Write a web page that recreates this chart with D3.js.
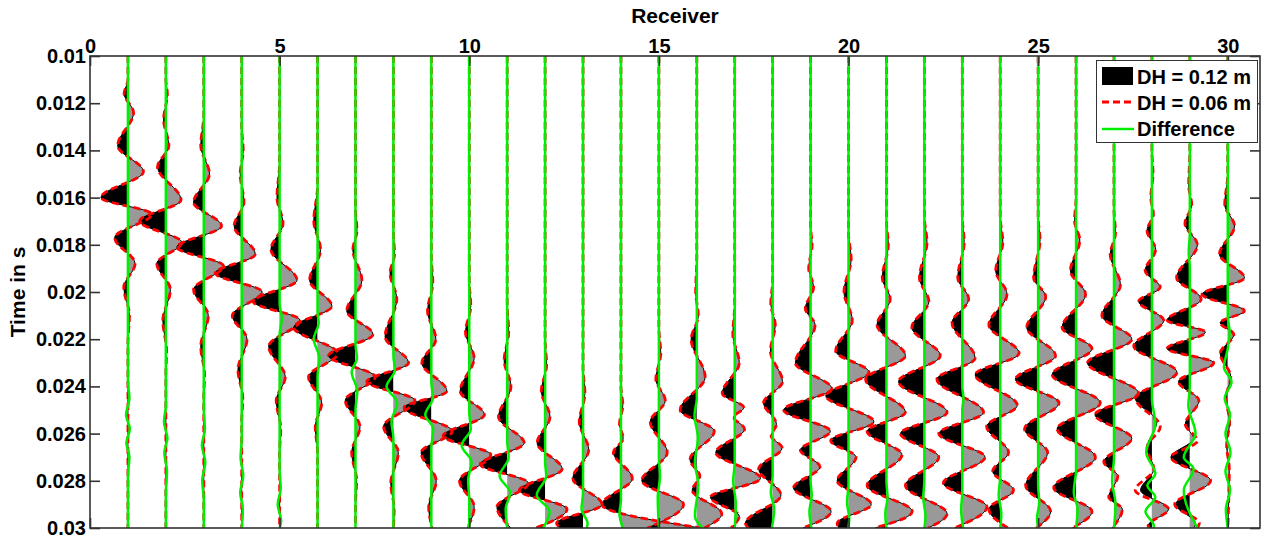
<!DOCTYPE html>
<html><head><meta charset="utf-8">
<script src="https://cdn.jsdelivr.net/npm/d3@7"></script>
<style>
html,body{margin:0;padding:0;background:#fff;}
svg{display:block;font-family:"Liberation Sans",Arial,Helvetica,sans-serif;font-weight:bold;}
</style></head>
<body>
<svg id="chart" width="1266" height="543"></svg>
<script>
// ---------- data ----------
const receivers = [1,2,3,4,5,6,7,8,9,10,11,12,13,14,15,16,17,18,19,20,21,22,23,24,25,26,27,28,29,30];
const xTickValues = [0,5,10,15,20,25,30];
const xTickLabels = ["0","5","10","15","20","25","30"];
const yTickValues = [0.01,0.012,0.014,0.016,0.018,0.02,0.022,0.024,0.026,0.028,0.03];
const yTickLabels = ["0.01","0.012","0.014","0.016","0.018","0.02","0.022","0.024","0.026","0.028","0.03"];
const legendLabels = ["DH = 0.12 m","DH = 0.06 m","Difference"];

// DH = 0.12 m traces: [time (s), amplitude (receiver units)] at lobe extremes
const dh012 = [
 [[0.0100,0],[0.0110,0],[0.0116,-0.10],[0.0124,0.15],[0.0138,-0.27],[0.0149,0.41],[0.0160,-0.71],[0.0167,0.63],[0.0177,-0.35],[0.0188,0.19],[0.0198,-0.11],[0.0210,0.04],[0.0222,0],[0.0300,0]],
 [[0.0100,0],[0.0110,0],[0.0116,0.04],[0.0127,-0.06],[0.0138,0.08],[0.0147,-0.22],[0.0161,0.40],[0.0170,-0.69],[0.0179,0.42],[0.0188,-0.24],[0.0199,0.12],[0.0212,-0.08],[0.0225,0.02],[0.0235,0],[0.0300,0]],
 [[0.0100,0],[0.0125,0],[0.0138,-0.08],[0.0150,0.15],[0.0162,-0.27],[0.0172,0.47],[0.0181,-0.71],[0.0189,0.52],[0.0199,-0.27],[0.0210,0.12],[0.0223,-0.08],[0.0235,0.02],[0.0245,0],[0.0300,0]],
 [[0.0100,0],[0.0130,0],[0.0140,0.04],[0.0150,-0.04],[0.0162,0.06],[0.0172,-0.20],[0.0184,0.36],[0.0192,-0.70],[0.0200,0.54],[0.0210,-0.25],[0.0220,0.14],[0.0233,-0.10],[0.0245,0.03],[0.0255,0],[0.0300,0]],
 [[0.0100,0],[0.0145,0],[0.0160,-0.07],[0.0171,0.09],[0.0182,-0.23],[0.0195,0.46],[0.0204,-0.70],[0.0212,0.54],[0.0223,-0.29],[0.0236,0.15],[0.0246,-0.09],[0.0258,0.03],[0.0268,0],[0.0300,0]],
 [[0.0100,0],[0.0155,0],[0.0170,-0.10],[0.0182,0.08],[0.0195,-0.21],[0.0206,0.38],[0.0215,-0.63],[0.0226,0.53],[0.0236,-0.24],[0.0247,0.11],[0.0257,-0.06],[0.0268,0],[0.0300,0]],
 [[0.0100,0],[0.0165,0],[0.0174,0.04],[0.0182,-0.07],[0.0195,0.17],[0.0208,-0.23],[0.0218,0.46],[0.0227,-0.71],[0.0236,0.52],[0.0246,-0.27],[0.0257,0.12],[0.0268,-0.10],[0.0280,0.03],[0.0290,0],[0.0300,0]],
 [[0.0100,0],[0.0175,0],[0.0184,0.03],[0.0192,-0.09],[0.0203,0.09],[0.0219,-0.22],[0.0230,0.40],[0.0238,-0.70],[0.0246,0.57],[0.0257,-0.26],[0.0268,0.13],[0.0281,-0.07],[0.0292,0.02],[0.0300,0]],
 [[0.0100,0],[0.0185,0],[0.0196,0.04],[0.0208,-0.10],[0.0220,0.12],[0.0230,-0.25],[0.0242,0.41],[0.0249,-0.72],[0.0259,0.55],[0.0268,-0.27],[0.0280,0.13],[0.0291,-0.07],[0.0300,0.02]],
 [[0.0100,0],[0.0195,0],[0.0206,0.04],[0.0217,-0.10],[0.0228,0.13],[0.0242,-0.24],[0.0252,0.40],[0.0261,-0.69],[0.0269,0.57],[0.0280,-0.26],[0.0291,0.13],[0.0300,-0.05]],
 [[0.0100,0],[0.0205,0],[0.0217,0.04],[0.0229,-0.08],[0.0240,0.10],[0.0253,-0.23],[0.0264,0.45],[0.0273,-0.71],[0.0281,0.56],[0.0291,-0.27],[0.0300,0.10]],
 [[0.0100,0],[0.0220,0],[0.0231,0.04],[0.0242,-0.10],[0.0253,0.13],[0.0264,-0.21],[0.0275,0.45],[0.0284,-0.68],[0.0292,0.58],[0.0300,-0.25]],
 [[0.0100,0],[0.0232,0],[0.0243,0.05],[0.0255,-0.10],[0.0267,0.15],[0.0279,-0.27],[0.0290,0.50],[0.0298,-0.70],[0.0300,-0.60]],
 [[0.0100,0],[0.0240,0],[0.0248,0.05],[0.0256,-0.04],[0.0262,0.06],[0.0268,-0.20],[0.0279,0.30],[0.0290,-0.50],[0.0300,2.10]],
 [[0.0100,0],[0.0215,0],[0.0226,0.05],[0.0237,-0.08],[0.0246,0.17],[0.0255,-0.23],[0.0268,0.22],[0.0280,-0.45],[0.0290,0.65],[0.0300,-0.30]],
 [[0.0100,0],[0.0185,0],[0.0200,-0.03],[0.0210,0.04],[0.0220,-0.15],[0.0236,0.22],[0.0250,-0.44],[0.0259,0.46],[0.0271,-0.18],[0.0278,0.08],[0.0284,-0.12],[0.0294,0.66],[0.0300,0.20]],
 [[0.0100,0],[0.0205,0],[0.0218,-0.05],[0.0230,0.12],[0.0243,-0.33],[0.0249,0.24],[0.0253,-0.03],[0.0258,0.26],[0.0268,-0.50],[0.0279,0.68],[0.0287,-0.64],[0.0295,0.12],[0.0300,-0.10]],
 [[0.0100,0],[0.0195,0],[0.0205,-0.05],[0.0214,0.07],[0.0225,-0.06],[0.0238,0.26],[0.0247,-0.24],[0.0256,0.10],[0.0261,-0.04],[0.0266,0.25],[0.0275,-0.37],[0.0286,0.22],[0.0298,-0.72],[0.0300,-0.65]],
 [[0.0100,0],[0.0172,0],[0.0180,0.04],[0.0190,-0.05],[0.0198,0.08],[0.0207,-0.14],[0.0214,0.12],[0.0230,-0.40],[0.0241,0.56],[0.0250,-0.71],[0.0259,0.52],[0.0267,-0.27],[0.0274,0.25],[0.0283,-0.45],[0.0293,0.54],[0.0300,-0.20]],
 [[0.0100,0],[0.0175,0],[0.0186,0.07],[0.0200,-0.12],[0.0212,0.10],[0.0225,-0.34],[0.0234,0.54],[0.0244,-0.60],[0.0255,0.67],[0.0263,-0.47],[0.0270,0.20],[0.0280,-0.30],[0.0290,0.60],[0.0298,-0.30],[0.0300,-0.25]],
 [[0.0100,0],[0.0170,0],[0.0180,0.05],[0.0194,-0.11],[0.0203,0.10],[0.0214,-0.25],[0.0227,0.50],[0.0237,-0.55],[0.0251,0.50],[0.0259,-0.51],[0.0269,0.41],[0.0282,-0.51],[0.0293,0.68],[0.0300,-0.30]],
 [[0.0100,0],[0.0168,0],[0.0179,0.07],[0.0194,-0.13],[0.0204,0.12],[0.0215,-0.33],[0.0227,0.42],[0.0238,-0.68],[0.0251,0.60],[0.0260,-0.63],[0.0270,0.38],[0.0282,-0.50],[0.0294,0.60],[0.0300,0.10]],
 [[0.0100,0],[0.0168,0],[0.0179,0.05],[0.0194,-0.12],[0.0203,0.17],[0.0213,-0.27],[0.0228,0.34],[0.0237,-0.67],[0.0251,0.56],[0.0260,-0.62],[0.0270,0.60],[0.0281,-0.50],[0.0291,0.65],[0.0300,-0.20]],
 [[0.0100,0],[0.0168,0],[0.0179,0.07],[0.0191,-0.12],[0.0201,0.18],[0.0214,-0.30],[0.0226,0.50],[0.0235,-0.66],[0.0248,0.45],[0.0257,-0.36],[0.0268,0.22],[0.0276,-0.20],[0.0284,0.35],[0.0292,-0.30],[0.0300,0.20]],
 [[0.0100,0],[0.0168,0],[0.0178,0.05],[0.0194,-0.12],[0.0202,0.20],[0.0215,-0.30],[0.0227,0.46],[0.0237,-0.60],[0.0247,0.55],[0.0258,-0.36],[0.0268,0.25],[0.0282,-0.33],[0.0293,0.33],[0.0300,-0.05]],
 [[0.0100,0],[0.0160,0],[0.0170,-0.04],[0.0178,0.10],[0.0191,-0.15],[0.0201,0.25],[0.0215,-0.37],[0.0224,0.42],[0.0235,-0.63],[0.0247,0.64],[0.0258,-0.50],[0.0270,0.51],[0.0283,-0.59],[0.0293,0.42],[0.0300,-0.10]],
 [[0.0100,0],[0.0165,0],[0.0175,0.04],[0.0184,-0.10],[0.0197,0.17],[0.0210,-0.32],[0.0220,0.47],[0.0230,-0.70],[0.0243,0.65],[0.0252,-0.50],[0.0262,0.47],[0.0272,-0.27],[0.0278,0.10],[0.0287,-0.14],[0.0292,0.22],[0.0300,-0.05]],
 [[0.0100,0],[0.0140,0],[0.0150,0.03],[0.0160,-0.03],[0.0167,0.04],[0.0174,-0.13],[0.0182,0.10],[0.0191,-0.18],[0.0198,0.22],[0.0204,-0.35],[0.0212,0.31],[0.0223,-0.48],[0.0234,0.66],[0.0245,-0.44],[0.0255,0.13],[0.0266,-0.13],[0.0275,0.05],[0.0284,-0.30],[0.0292,0.44],[0.0299,-0.10],[0.0300,-0.08]],
 [[0.0100,0],[0.0140,0],[0.0155,-0.03],[0.0163,0.05],[0.0171,-0.13],[0.0180,0.20],[0.0194,-0.35],[0.0203,0.30],[0.0212,-0.60],[0.0217,0.41],[0.0224,-0.60],[0.0230,0.63],[0.0238,-0.30],[0.0246,0.24],[0.0256,-0.12],[0.0262,0.10],[0.0270,-0.50],[0.0280,0.55],[0.0290,-0.38],[0.0298,0.15],[0.0300,0.10]],
 [[0.0100,0],[0.0150,0],[0.0163,-0.08],[0.0172,0.18],[0.0184,-0.22],[0.0194,0.44],[0.0201,-0.68],[0.0208,0.44],[0.0213,-0.20],[0.0218,0.16],[0.0226,-0.20],[0.0236,0.08],[0.0245,-0.05],[0.0255,0.05],[0.0265,-0.03],[0.0275,0.04],[0.0300,0]]
];

// DH = 0.06 m: same as DH = 0.12 m except where the red dashed curve visibly departs
const dh006Receivers = [28, 29];
const dh006Departures = [
 [[0.0100,0],[0.0140,0],[0.0150,0.03],[0.0160,-0.03],[0.0167,0.04],[0.0174,-0.13],[0.0182,0.10],[0.0191,-0.18],[0.0198,0.22],[0.0204,-0.35],[0.0212,0.31],[0.0223,-0.48],[0.0234,0.66],[0.0245,-0.44],[0.0257,0.22],[0.0266,-0.13],[0.0275,0.05],[0.0284,-0.44],[0.0292,0.44],[0.0299,-0.10],[0.0300,-0.08]],
 [[0.0100,0],[0.0140,0],[0.0155,-0.03],[0.0163,0.05],[0.0171,-0.13],[0.0180,0.20],[0.0194,-0.35],[0.0203,0.30],[0.0212,-0.60],[0.0217,0.41],[0.0224,-0.60],[0.0230,0.63],[0.0238,-0.30],[0.0246,0.24],[0.0256,-0.12],[0.0263,0.20],[0.0270,-0.50],[0.0280,0.55],[0.0290,-0.40],[0.0298,0.25],[0.0300,0.20]]
];

// Difference traces
const difference = [
 [[0.0100,0],[0.0238,0],[0.0245,0.04],[0.0252,-0.05],[0.0258,0.05],[0.0264,-0.04],[0.0270,0.04],[0.0278,0],[0.0300,0]],
 [[0.0100,0],[0.0248,0],[0.0255,-0.05],[0.0262,0.04],[0.0268,-0.04],[0.0276,0.03],[0.0285,0],[0.0300,0]],
 [[0.0100,0],[0.0250,0],[0.0258,0.03],[0.0265,-0.05],[0.0272,0.04],[0.0280,-0.04],[0.0288,0],[0.0300,0]],
 [[0.0100,0],[0.0262,0],[0.0270,-0.03],[0.0278,0.04],[0.0285,-0.04],[0.0292,0.03],[0.0300,0]],
 [[0.0100,0],[0.0205,0],[0.0211,0.06],[0.0218,0],[0.0276,0],[0.0283,0.03],[0.0290,-0.05],[0.0297,0.04],[0.0300,0]],
 [[0.0100,0],[0.0208,0],[0.0213,0.03],[0.0220,-0.10],[0.0228,0.05],[0.0236,0],[0.0300,0]],
 [[0.0100,0],[0.0222,0],[0.0228,0.04],[0.0234,-0.10],[0.0242,0.05],[0.0250,0],[0.0300,0]],
 [[0.0100,0],[0.0227,0],[0.0233,0.04],[0.0240,-0.18],[0.0247,0.10],[0.0255,-0.05],[0.0262,0],[0.0300,0]],
 [[0.0100,0],[0.0238,0],[0.0245,0.04],[0.0252,-0.16],[0.0258,0.05],[0.0266,0],[0.0300,0]],
 [[0.0100,0],[0.0251,0],[0.0258,0.04],[0.0265,-0.20],[0.0272,0.06],[0.0280,-0.03],[0.0288,0],[0.0300,0]],
 [[0.0100,0],[0.0263,0],[0.0270,0.04],[0.0278,-0.20],[0.0285,0.08],[0.0292,-0.04],[0.0300,0]],
 [[0.0100,0],[0.0272,0],[0.0278,0.03],[0.0286,-0.22],[0.0293,0.12],[0.0300,-0.05]],
 [[0.0100,0],[0.0285,0],[0.0292,-0.04],[0.0298,0.12],[0.0300,0.10]],
 [[0.0100,0],[0.0288,0],[0.0294,-0.04],[0.0300,0.05]],
 [[0.0100,0],[0.0270,0],[0.0278,0.03],[0.0287,-0.03],[0.0300,0]],
 [[0.0100,0],[0.0245,0],[0.0252,-0.06],[0.0262,0.03],[0.0272,-0.05],[0.0282,0.04],[0.0295,-0.05],[0.0300,0.15]],
 [[0.0100,0],[0.0272,0],[0.0280,-0.04],[0.0290,0.03],[0.0300,0]],
 [[0.0100,0],[0.0278,0],[0.0285,-0.05],[0.0292,0.04],[0.0300,-0.02]],
 [[0.0100,0],[0.0280,0],[0.0286,0.03],[0.0293,-0.03],[0.0300,0.02]],
 [[0.0100,0],[0.0282,0],[0.0289,-0.04],[0.0296,0.02],[0.0300,0]],
 [[0.0100,0],[0.0280,0],[0.0287,0.03],[0.0294,-0.03],[0.0300,0]],
 [[0.0100,0],[0.0280,0],[0.0287,-0.03],[0.0295,0.03],[0.0300,0]],
 [[0.0100,0],[0.0240,0],[0.0245,0.03],[0.0250,0],[0.0285,0],[0.0292,-0.03],[0.0300,0.02]],
 [[0.0100,0],[0.0278,0],[0.0286,-0.04],[0.0294,0.03],[0.0300,0]],
 [[0.0100,0],[0.0282,0],[0.0289,0.03],[0.0296,-0.03],[0.0300,0]],
 [[0.0100,0],[0.0275,0],[0.0285,-0.06],[0.0292,0.04],[0.0300,0]],
 [[0.0100,0],[0.0270,0],[0.0280,-0.05],[0.0290,0.04],[0.0300,0]],
 [[0.0100,0],[0.0245,0],[0.0256,0.09],[0.0268,-0.15],[0.0277,0.09],[0.0282,-0.12],[0.0287,0.09],[0.0293,-0.17],[0.0299,0.05],[0.0300,0.04]],
 [[0.0100,0],[0.0175,0],[0.0183,-0.03],[0.0190,0],[0.0240,0],[0.0248,-0.04],[0.0260,0.15],[0.0270,-0.16],[0.0275,0.10],[0.0284,-0.16],[0.0300,0.20]],
 [[0.0100,0],[0.0210,0],[0.0217,0.05],[0.0224,0],[0.0232,-0.10],[0.0238,0.10],[0.0245,-0.08],[0.0252,0.06],[0.0260,-0.06],[0.0268,0.07],[0.0276,-0.06],[0.0284,0.06],[0.0292,-0.05],[0.0300,0]]
];

// ---------- layout ----------
const W = 1266, H = 543;
const plot = {left: 90, right: 1260, top: 56, bottom: 528};
const x = d3.scaleLinear().domain([0, 30.85]).range([plot.left, plot.right]);
const y = d3.scaleLinear().domain([0.01, 0.03]).range([plot.top, plot.bottom]);

const svg = d3.select("#chart");
svg.append("rect").attr("width", W).attr("height", H).attr("fill", "#fff");
const defs = svg.append("defs");
defs.append("clipPath").attr("id", "plotClip").append("rect")
  .attr("x", plot.left).attr("y", plot.top)
  .attr("width", plot.right - plot.left).attr("height", plot.bottom - plot.top);

const data = svg.append("g").attr("clip-path", "url(#plotClip)");

const traceLine = r => d3.line().curve(d3.curveMonotoneY)
  .x(d => x(r + d[1])).y(d => y(d[0]));
const traceArea = r => d3.area().curve(d3.curveMonotoneY)
  .y(d => y(d[0])).x0(x(r)).x1(d => x(r + d[1]));

// fills and outlines (DH = 0.12 m)
receivers.forEach((r, i) => {
  const base = x(r);
  defs.append("clipPath").attr("id", "L" + r).append("rect")
    .attr("x", plot.left - 5).attr("y", plot.top).attr("width", base - plot.left + 5).attr("height", plot.bottom - plot.top);
  defs.append("clipPath").attr("id", "R" + r).append("rect")
    .attr("x", base).attr("y", plot.top).attr("width", plot.right - base + 5).attr("height", plot.bottom - plot.top);
  const g = data.append("g");
  g.append("path").attr("d", traceArea(r)(dh012[i])).attr("fill", "#000").attr("clip-path", "url(#L" + r + ")");
  g.append("path").attr("d", traceArea(r)(dh012[i])).attr("fill", "#999").attr("clip-path", "url(#R" + r + ")");
  g.append("path").attr("d", traceLine(r)(dh012[i])).attr("fill", "none").attr("stroke", "#000").attr("stroke-width", 1);
});

// DH = 0.06 m (red dashed)
receivers.forEach((r, i) => {
  const k = dh006Receivers.indexOf(r);
  const series = k >= 0 ? dh006Departures[k] : dh012[i];
  data.append("path").attr("d", traceLine(r)(series))
    .attr("fill", "none").attr("stroke", "#ff0000").attr("stroke-width", 2.8)
    .attr("stroke-dasharray", "7,4");
});

// Difference (green)
receivers.forEach((r, i) => {
  data.append("path").attr("d", traceLine(r)(difference[i]))
    .attr("fill", "none").attr("stroke", "#00ee00").attr("stroke-width", 2.5);
});

// ---------- axes ----------
const axisColor = "#333";
const axes = svg.append("g");
axes.append("rect").attr("x", plot.left).attr("y", plot.top)
  .attr("width", plot.right - plot.left).attr("height", plot.bottom - plot.top)
  .attr("fill", "none").attr("stroke", axisColor).attr("stroke-width", 1.6);

const xTop = d3.axisTop(x).tickValues(xTickValues).tickFormat((d, i) => xTickLabels[i]).tickSizeInner(-10).tickSizeOuter(0).tickPadding(4);
const gx = axes.append("g").attr("transform", `translate(0,${plot.top})`).call(xTop);
const xBot = d3.axisBottom(x).tickValues(xTickValues).tickFormat("").tickSizeInner(-10).tickSizeOuter(0);
const gxb = axes.append("g").attr("transform", `translate(0,${plot.bottom})`).call(xBot);

const yLeft = d3.axisLeft(y).tickValues(yTickValues).tickFormat((d, i) => yTickLabels[i]).tickSizeInner(-10).tickSizeOuter(0).tickPadding(4);
const gy = axes.append("g").attr("transform", `translate(${plot.left},0)`).call(yLeft);
const yRight = d3.axisRight(y).tickValues(yTickValues).tickFormat("").tickSizeInner(-10).tickSizeOuter(0);
const gyr = axes.append("g").attr("transform", `translate(${plot.right},0)`).call(yRight);

[gx, gxb, gy, gyr].forEach(g => {
  g.select(".domain").remove();
  g.selectAll(".tick line").attr("stroke", axisColor).attr("stroke-width", 1.6);
  g.selectAll(".tick text").attr("fill", "#000").style("font-size", "20px").style("font-weight", "bold")
    .style("font-family", '"Liberation Sans", Arial, sans-serif');
});
gx.selectAll(".tick text").attr("y", -3).attr("dy", 0);
gy.selectAll(".tick text").attr("x", -4);

svg.append("text").attr("x", (plot.left + plot.right) / 2).attr("y", 23)
  .attr("text-anchor", "middle").style("font-size", "21px").text("Receiver");
svg.append("text").attr("transform", `translate(25,${(plot.top + plot.bottom) / 2}) rotate(-90)`)
  .attr("text-anchor", "middle").style("font-size", "21px").text("Time in s");

// ---------- legend ----------
const lg = svg.append("g");
lg.append("rect").attr("x", 1096.5).attr("y", 60.5).attr("width", 161).attr("height", 82)
  .attr("fill", "#fff").attr("stroke", "#333").attr("stroke-width", 1);
lg.append("rect").attr("x", 1102).attr("y", 67).attr("width", 31).attr("height", 18).attr("fill", "#000");
lg.append("line").attr("x1", 1102).attr("x2", 1134).attr("y1", 102).attr("y2", 102)
  .attr("stroke", "#ff0000").attr("stroke-width", 2.8).attr("stroke-dasharray", "7,4");
lg.append("line").attr("x1", 1102).attr("x2", 1134).attr("y1", 129).attr("y2", 129)
  .attr("stroke", "#00ee00").attr("stroke-width", 2.5);
[84, 110, 136].forEach((yy, i) => {
  lg.append("text").attr("x", 1137).attr("y", yy).style("font-size", "20px").text(legendLabels[i]);
});
</script>
</body></html>
